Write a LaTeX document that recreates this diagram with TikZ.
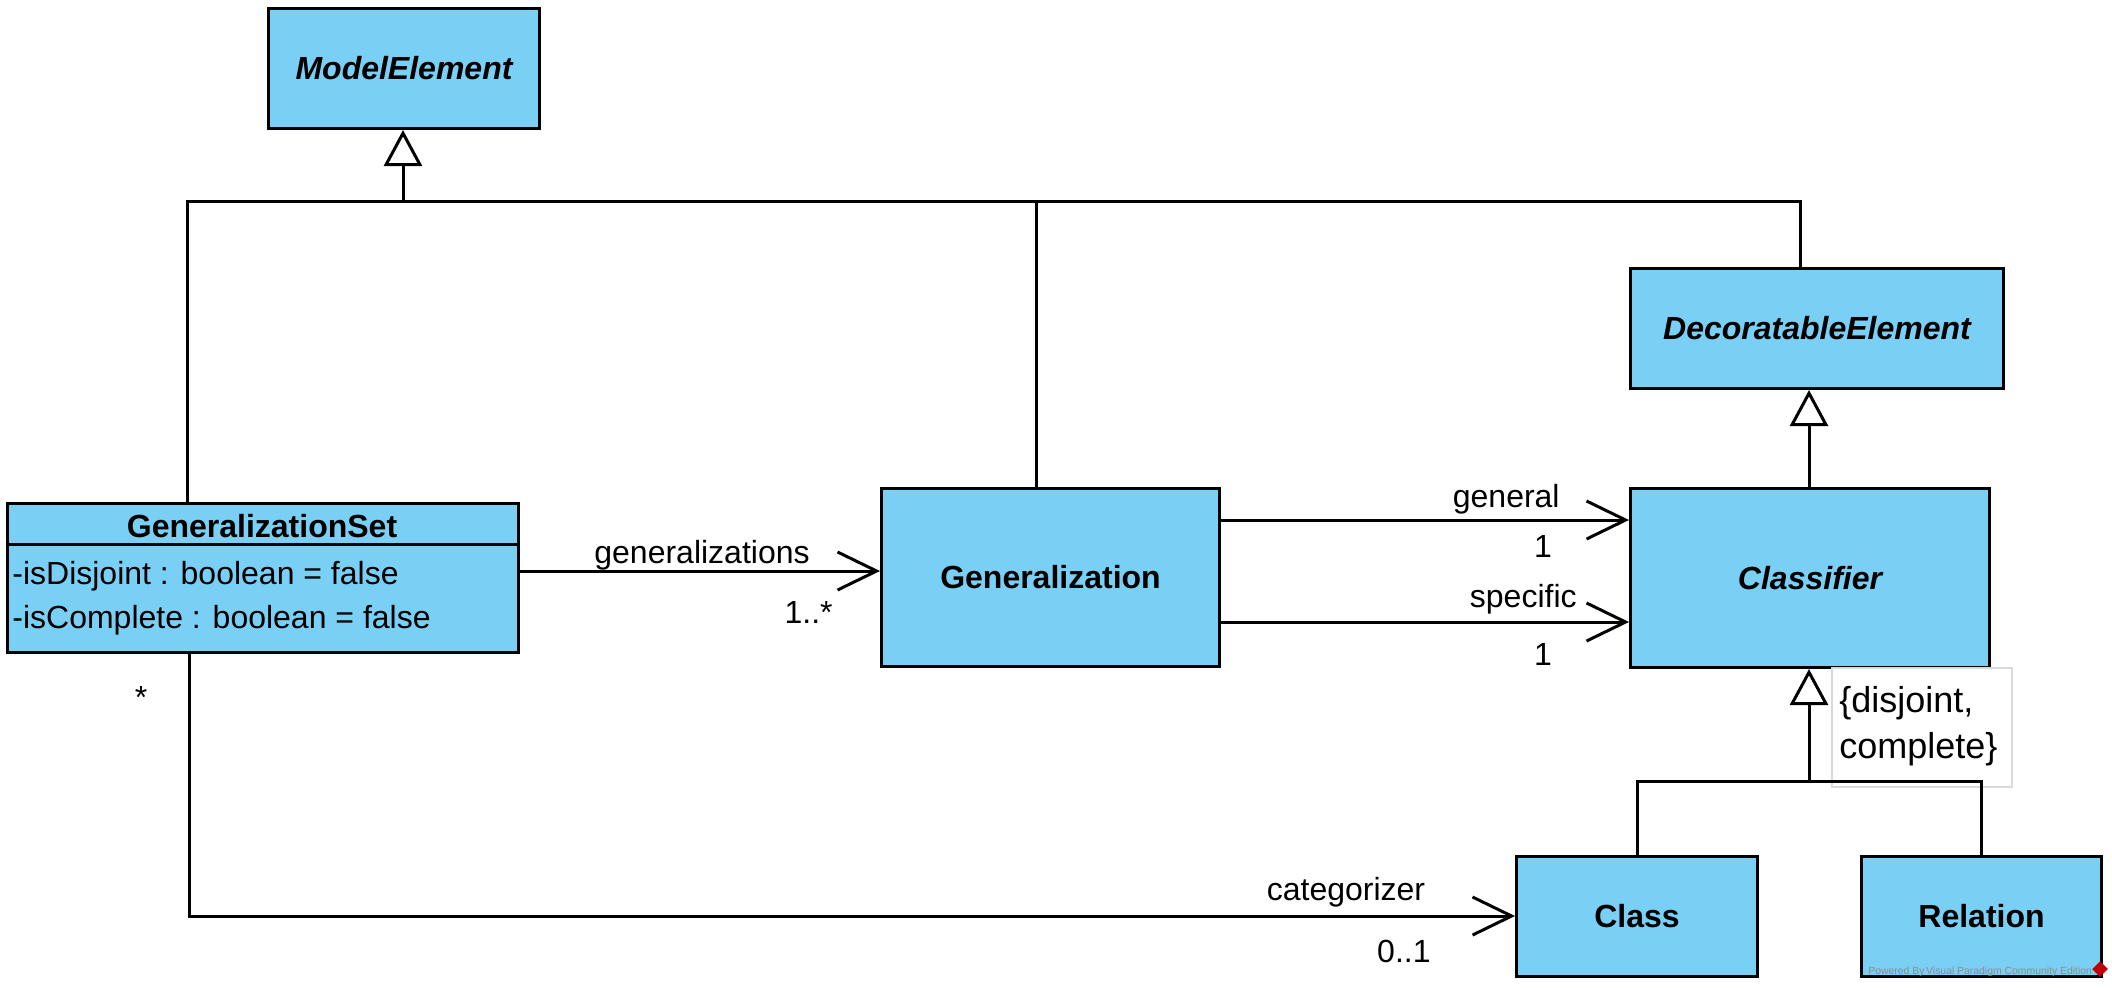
\documentclass[tikz,border=0pt]{standalone}
\usepackage{fontspec}
\setmainfont{Liberation Sans}
\usetikzlibrary{arrows.meta}
\definecolor{umlblue}{RGB}{122,207,245}
\newcommand\fsz{\fontsize{16}{19}\selectfont}
\begin{document}
\begin{tikzpicture}[x=0.5pt,y=-0.5pt,
  cls/.style={draw=black,line width=1.5pt,fill=umlblue,font=\fsz\bfseries,inner sep=0pt,anchor=north west},
  lbl/.style={font=\fsz,inner sep=0pt},
  ln/.style={line width=1.5pt},
  gen/.style={line width=1.5pt,-{Triangle[length=18pt,width=19pt,fill=white]}},
  assoc/.style={line width=1.5pt,-{Straight Barb[length=19.5pt,width=19pt]}}]
\fill[white] (0,0) rectangle (2112,987);
\useasboundingbox (0,0) rectangle (2112,987);
% classes
\node[cls,minimum width=135.5pt,minimum height=60pt] (me) at (267,7) {\itshape ModelElement};
\node[cls,minimum width=186.5pt,minimum height=60pt] (de) at (1629,267) {\itshape DecoratableElement};
\node[cls,minimum width=255.5pt,minimum height=74.5pt] (gs) at (6,502) {};
\node[cls,minimum width=169pt,minimum height=89pt] (gen) at (880,487) {Generalization};
\node[cls,minimum width=179.5pt,minimum height=89.5pt] (cf) at (1629,487) {\itshape Classifier};
\node[cls,minimum width=120.5pt,minimum height=60pt] (cl) at (1515,855) {Class};
\node[cls,minimum width=120pt,minimum height=60pt] (rel) at (1860,855) {Relation};
% GeneralizationSet compartments
\draw[ln] (gs.west |- 0,544) -- (gs.east |- 0,544);
\node[lbl,font=\fsz\bfseries,anchor=base] (gsname) at (262,537) {GeneralizationSet};
\node[lbl,anchor=base west] (gsa1) at (12,584) {-isDisjoint : boolean = false};
\node[lbl,anchor=base west] (gsa2) at (12,628) {-isComplete : boolean = false};
% constraint note
\node[draw=black!15,line width=1pt,fill=white,minimum width=90pt,minimum height=59.5pt,anchor=north west,inner sep=0pt] (cons) at (1831,667) {};
\node[lbl,font=\fontsize{18}{21}\selectfont,anchor=base west] (cons1) at (1839,712) {\{disjoint,};
\node[lbl,font=\fontsize{18}{21}\selectfont,anchor=base west] (cons2) at (1839,758) {complete\}};
% generalization tree to ModelElement
\coordinate (mej) at (403,201);
\draw[gen] (mej) -- (mej |- me.south);
\draw[ln] (187,0 |- gs.north) -- (187,201) -- (1800,201) -- (1800,0 |- de.north);
\draw[ln] (1036,201) -- (1036,0 |- gen.north);
% Classifier -> DecoratableElement
\draw[gen] (1809,0 |- cf.north) -- (1809,0 |- de.south);
% Class, Relation -> Classifier
\coordinate (cfj) at (1809,781);
\draw[gen] (cfj) -- (cfj |- cf.south);
\draw[ln] (cl.north) -- (cl.north |- cfj) -- (rel.north |- cfj) -- (rel.north);
% associations
\draw[assoc] (gs.east |- 0,571) -- (gen.west |- 0,571);
\draw[assoc] (gen.east |- 0,520) -- (cf.west |- 0,520);
\draw[assoc] (gen.east |- 0,622) -- (cf.west |- 0,622);
\draw[assoc] (189,0 |- gs.south) -- (189,916) -- (cl.west |- 0,916);
% labels
\node[lbl,anchor=base] (l1) at (702,563) {generalizations};
\node[lbl,anchor=base east] (l2) at (833,623) {1..*};
\node[lbl,anchor=base east] (l3) at (1560,507) {general};
\node[lbl,anchor=base] (l4) at (1543,557) {1};
\node[lbl,anchor=base east] (l5) at (1577,607) {specific};
\node[lbl,anchor=base] (l6) at (1543,665) {1};
\node[lbl,anchor=base] (l7) at (1346,900) {categorizer};
\node[lbl,anchor=base east] (l8) at (1431,962) {0..1};
\node[lbl,anchor=base] (l9) at (141,708) {*};
% watermark
\node[font=\fontsize{5.2}{6}\selectfont,text=black!45,anchor=base west,inner sep=0pt] (wm) at (1868,974) {Powered By\,Visual Paradigm Community Edition};
\node[fill=red!75!black,rotate=45,minimum size=5.5pt,inner sep=0pt] (logo) at (2100,969) {};
\end{tikzpicture}
\end{document}
